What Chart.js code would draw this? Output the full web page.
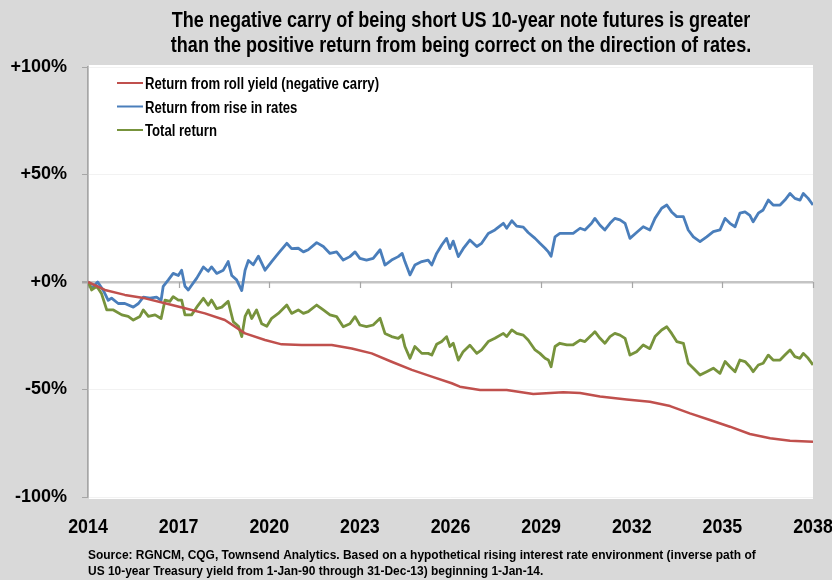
<!DOCTYPE html>
<html>
<head>
<meta charset="utf-8">
<title>Negative carry of short US 10-year note futures</title>
<script src="https://cdn.jsdelivr.net/npm/chart.js@4.4.0/dist/chart.umd.min.js"></script>
<style>
    html, body { margin: 0; padding: 0; background: #d9d9d9; }
    #wrap { width: 832px; height: 580px; }
</style>
</head>
<body>
<div id="wrap"><canvas id="carryChart" width="832" height="580"></canvas></div>
<script>
// series (x = year, y = cumulative return in %)
var rollYears = [2014.0, 2014.56, 2015.22, 2015.89, 2016.55, 2017.21, 2017.87, 2018.53, 2019.2, 2019.86,
    2020.41, 2021.07, 2022.07, 2022.73, 2023.39, 2024.05, 2024.72, 2025.38, 2026.04, 2026.31,
    2026.98, 2027.86, 2028.74, 2029.73, 2030.29, 2030.95, 2031.83, 2032.6, 2033.27, 2033.93,
    2034.59, 2035.25, 2035.91, 2036.58, 2037.24, 2038.0];
var rollReturn = [0, -3.7, -6, -7.6, -9.9, -12.2, -14.6, -17.7, -23.9, -27,
    -29, -29.3, -29.3, -30.9, -33.2, -37.1, -40.9, -44, -47.1, -48.7,
    -50.2, -50.2, -52.1, -51.3, -51.6, -53.3, -54.6, -55.7, -57.7, -61.1,
    -64.2, -67.3, -70.7, -72.7, -73.8, -74.3];

var rateYears = [2014.01, 2014.12, 2014.32, 2014.51, 2014.67, 2014.78, 2015.0, 2015.22, 2015.5, 2015.67,
    2015.83, 2016.05, 2016.27, 2016.42, 2016.49, 2016.66, 2016.82, 2016.99, 2017.1, 2017.21,
    2017.32, 2017.43, 2017.6, 2017.82, 2017.98, 2018.09, 2018.26, 2018.48, 2018.64, 2018.76,
    2018.92, 2019.09, 2019.2, 2019.31, 2019.47, 2019.64, 2019.86, 2020.08, 2020.3, 2020.58,
    2020.74, 2020.96, 2021.13, 2021.29, 2021.57, 2021.79, 2022.01, 2022.23, 2022.45, 2022.67,
    2022.84, 2023.0, 2023.22, 2023.44, 2023.67, 2023.83, 2024.05, 2024.27, 2024.4, 2024.49,
    2024.66, 2024.82, 2025.05, 2025.26, 2025.38, 2025.54, 2025.71, 2025.87, 2025.98, 2026.09,
    2026.26, 2026.42, 2026.64, 2026.87, 2027.03, 2027.25, 2027.47, 2027.75, 2027.86, 2028.03,
    2028.19, 2028.41, 2028.57, 2028.8, 2028.96, 2029.13, 2029.24, 2029.33, 2029.46, 2029.62,
    2029.85, 2030.06, 2030.29, 2030.45, 2030.67, 2030.78, 2030.95, 2031.11, 2031.28, 2031.44,
    2031.61, 2031.78, 2031.94, 2032.16, 2032.38, 2032.6, 2032.77, 2032.99, 2033.16, 2033.32,
    2033.49, 2033.71, 2033.87, 2034.04, 2034.26, 2034.48, 2034.7, 2034.92, 2035.09, 2035.25,
    2035.42, 2035.58, 2035.75, 2035.91, 2036.02, 2036.19, 2036.35, 2036.52, 2036.68, 2036.91,
    2037.07, 2037.24, 2037.4, 2037.57, 2037.68, 2037.84, 2038.0];
var rateReturn = [0, -3, 0, -4, -8.5, -7.5, -10, -10, -11.7, -10,
    -7, -7.5, -7, -8.5, -2, 1, 4, 3, 5.5, -2,
    -3.7, -1.5, 1.8, 7, 5, 7, 4, 5.5, 9.5, 3,
    1, -4, 5.5, 10, 8, 12, 5.5, 9.5, 13.3, 18,
    15.5, 15.7, 14, 15, 18.3, 16.5, 13.3, 14, 10.2, 11.8,
    14, 11, 10.2, 11, 15, 7.9, 10.2, 11.8, 13.3, 9.5,
    3.3, 7.9, 9.5, 10.2, 7.9, 13.3, 17.2, 20.3, 15.5, 19,
    11.8, 15.5, 19.5, 16.5, 18, 22.6, 24.2, 27.3, 25, 28.5,
    26, 25.5, 23, 20.3, 18, 15.7, 14, 12, 21, 22.6,
    22.6, 22.6, 25, 24.2, 27.3, 29.6, 26.4, 24.2, 27.3, 29.6,
    28.9, 27.3, 20.3, 23, 25.7, 24.2, 29.6, 34.3, 35.8, 32.6,
    30.4, 30.4, 24.2, 21, 18.8, 21, 23.4, 24.2, 29.6, 27.3,
    25.7, 32, 32.6, 31, 28, 32, 33.5, 38.1, 35.8, 35.8,
    38.1, 41.2, 38.9, 38.1, 41.2, 38.9, 35.8];

var totalYears = [2014.01, 2014.12, 2014.29, 2014.45, 2014.62, 2014.84, 2015.12, 2015.33, 2015.5, 2015.72,
    2015.83, 2016.0, 2016.22, 2016.42, 2016.55, 2016.71, 2016.82, 2016.99, 2017.1, 2017.21,
    2017.43, 2017.6, 2017.82, 2017.98, 2018.09, 2018.26, 2018.43, 2018.64, 2018.81, 2018.98,
    2019.09, 2019.2, 2019.31, 2019.42, 2019.58, 2019.75, 2019.92, 2020.08, 2020.3, 2020.58,
    2020.74, 2020.96, 2021.13, 2021.29, 2021.57, 2021.79, 2022.01, 2022.23, 2022.45, 2022.67,
    2022.84, 2023.0, 2023.22, 2023.44, 2023.67, 2023.83, 2024.05, 2024.27, 2024.4, 2024.49,
    2024.66, 2024.82, 2025.05, 2025.26, 2025.38, 2025.54, 2025.71, 2025.87, 2025.98, 2026.09,
    2026.26, 2026.42, 2026.64, 2026.87, 2027.03, 2027.25, 2027.47, 2027.75, 2027.86, 2028.03,
    2028.19, 2028.41, 2028.57, 2028.8, 2028.96, 2029.13, 2029.24, 2029.33, 2029.46, 2029.62,
    2029.85, 2030.06, 2030.29, 2030.45, 2030.67, 2030.78, 2030.95, 2031.11, 2031.28, 2031.44,
    2031.61, 2031.78, 2031.94, 2032.16, 2032.38, 2032.6, 2032.77, 2032.99, 2033.16, 2033.32,
    2033.49, 2033.71, 2033.87, 2034.04, 2034.26, 2034.48, 2034.7, 2034.92, 2035.09, 2035.25,
    2035.42, 2035.58, 2035.75, 2035.91, 2036.02, 2036.19, 2036.35, 2036.52, 2036.68, 2036.91,
    2037.07, 2037.24, 2037.4, 2037.57, 2037.68, 2037.84, 2038.0];
var totalReturn = [0, -3.7, -2, -5.5, -13, -13, -15.3, -16, -17.7, -16,
    -13, -16, -15.3, -17, -8.4, -9, -6.8, -8.4, -8.4, -15.3,
    -15.3, -11.7, -7.6, -10.8, -8.4, -12.4, -11.7, -9, -18.5, -20.6,
    -25.4, -16, -13, -17, -13, -19.4, -20.6, -16.9, -14.6, -10.7,
    -14.6, -13, -14.6, -13.8, -10.7, -13, -15.3, -16.1, -20.8, -19.4,
    -16.1, -20, -20.8, -20, -16.9, -23.9, -25.4, -26.2, -24.7, -30,
    -35.5, -30, -33.2, -33.2, -34, -29, -27.7, -25.4, -30, -28.5,
    -36.3, -32.4, -29.4, -33.2, -31.6, -27.7, -26.2, -23.9, -25.4, -22.3,
    -23.9, -24.7, -27, -31.6, -33.2, -35.5, -36.3, -39.4, -30, -28.5,
    -29.2, -29.2, -27, -27.7, -24.7, -23.1, -26.2, -28.5, -25.4, -23.9,
    -24.7, -26.2, -34, -32.4, -29.3, -31, -25.4, -22.3, -20.8, -23.9,
    -27.7, -28.5, -37.8, -40.1, -43.3, -41.7, -40.1, -42.5, -37, -39.4,
    -41.7, -36.3, -37, -39.4, -41.7, -38.6, -37.8, -34, -36.3, -36.3,
    -34, -31.6, -34.7, -35.5, -33.2, -35.5, -38.6];

var seriesNames = ['Return from roll yield (negative carry)', 'Return from rise in rates', 'Total return'];
var yearTicks = [2014, 2017, 2020, 2023, 2026, 2029, 2032, 2035, 2038];
var pctTicks = [100, 50, 0, -50, -100];

var titleLines = [
    'The negative carry of being short US 10-year note futures is greater',
    'than the positive return from being correct on the direction of rates.'
];
var sourceLines = [
    'Source: RGNCM, CQG, Townsend Analytics. Based on a hypothetical rising interest rate environment (inverse path of',
    'US 10-year Treasury yield from 1-Jan-90 through 31-Dec-13) beginning 1-Jan-14.'
];

var FONT = "'Liberation Sans', Arial, sans-serif";
var AXIS_GREY = '#a6a6a6';
// the original uses a condensed face; squeeze regular bold to this width ratio
var NARROW_RATIO = 0.82;

function toPoints(xs, ys) {
    var out = [];
    for (var i = 0; i < Math.min(xs.length, ys.length); i++) {
        out.push({x: xs[i], y: ys[i]});
    }
    return out;
}

function narrowText(ctx, text, x, y, ratio) {
    ctx.save();
    ctx.translate(x, y);
    ctx.scale(ratio, 1);
    ctx.fillText(text, 0, 0);
    ctx.restore();
}

// gray page, white plot box, little tick marks hanging under the zero line
var plotBox = {
    id: 'plotBox',
    beforeDraw: function (chart) {
        var ctx = chart.ctx, a = chart.chartArea;
        ctx.save();
        ctx.fillStyle = '#d9d9d9';
        ctx.fillRect(0, 0, chart.width, chart.height);
        ctx.fillStyle = '#ffffff';
        ctx.fillRect(a.left + 1, a.top - 2, a.right - a.left - 1, a.bottom - a.top + 4);
        ctx.restore();
    },
    beforeDatasetsDraw: function (chart) {
        var ctx = chart.ctx, xs = chart.scales.x, ys = chart.scales.y;
        var y0 = ys.getPixelForValue(0);
        ctx.save();
        ctx.strokeStyle = AXIS_GREY;
        ctx.lineWidth = 1.2;
        yearTicks.forEach(function (yr) {
            var px = Math.round(xs.getPixelForValue(yr)) + 0.5;
            ctx.beginPath();
            ctx.moveTo(px, y0);
            ctx.lineTo(px, y0 + 6);
            ctx.stroke();
        });
        ctx.restore();
    }
};

// title, year labels, legend inside the plot, source note
var textBits = {
    id: 'textBits',
    afterDraw: function (chart) {
        var ctx = chart.ctx, xs = chart.scales.x;
        ctx.save();
        ctx.fillStyle = '#000';
        ctx.textBaseline = 'alphabetic';

        ctx.textAlign = 'center';
        ctx.font = 'bold 22px ' + FONT;
        narrowText(ctx, titleLines[0], 461, 27, NARROW_RATIO);
        narrowText(ctx, titleLines[1], 461, 52, NARROW_RATIO);

        // year labels sit on the x scale's own tick positions
        ctx.font = 'bold 21px ' + FONT;
        yearTicks.forEach(function (yr) {
            narrowText(ctx, String(yr), xs.getPixelForValue(yr), 533, 0.85);
        });

        ctx.textAlign = 'left';
        ctx.font = 'bold 16px ' + FONT;
        chart.data.datasets.forEach(function (ds, i) {
            var rowY = 83 + i * 23.5;
            ctx.strokeStyle = ds.borderColor;
            ctx.lineWidth = 2;
            ctx.beginPath();
            ctx.moveTo(117, rowY);
            ctx.lineTo(143, rowY);
            ctx.stroke();
            narrowText(ctx, ds.label, 145, rowY + 6, NARROW_RATIO);
        });

        ctx.font = 'bold 13px ' + FONT;
        narrowText(ctx, sourceLines[0], 88, 559, 0.92);
        narrowText(ctx, sourceLines[1], 88, 575, 0.92);
        ctx.restore();
    }
};

var chart = new Chart(document.getElementById('carryChart').getContext('2d'), {
    type: 'line',
    data: {
        datasets: [
            {
                label: seriesNames[0],
                data: toPoints(rollYears, rollReturn),
                borderColor: '#c0504d',
                borderWidth: 2.5,
                order: 1
            },
            {
                label: seriesNames[1],
                data: toPoints(rateYears, rateReturn),
                borderColor: '#4a7ebb',
                borderWidth: 2.8,
                order: 3
            },
            {
                label: seriesNames[2],
                data: toPoints(totalYears, totalReturn),
                borderColor: '#77933c',
                borderWidth: 2.8,
                order: 2
            }
        ]
    },
    options: {
        responsive: false,
        animation: false,
        elements: {
            point: {radius: 0, hoverRadius: 0},
            line: {tension: 0, borderJoinStyle: 'round', fill: false}
        },
        layout: {padding: {top: 67, right: 19, left: 0, bottom: 0}},
        plugins: {
            legend: {display: false},
            title: {display: false},
            tooltip: {enabled: false}
        },
        scales: {
            x: {
                type: 'linear',
                min: 2014,
                max: 2038,
                afterBuildTicks: function (scale) {
                    scale.ticks = yearTicks.map(function (v) { return {value: v}; });
                },
                afterFit: function (scale) {
                    scale.height = 83;
                    scale.paddingLeft = 0;
                    scale.paddingRight = 0;
                },
                grid: {display: false, drawTicks: false},
                border: {display: false},
                ticks: {display: false}
            },
            y: {
                min: -100,
                max: 100,
                afterBuildTicks: function (scale) {
                    scale.ticks = pctTicks.map(function (v) { return {value: v}; });
                },
                afterFit: function (scale) {
                    scale.width = 88;
                    scale.paddingTop = 0;
                    scale.paddingBottom = 0;
                },
                grid: {
                    drawTicks: true,
                    tickLength: 6,
                    tickColor: AXIS_GREY,
                    color: function (c) {
                        if (c.tick && c.tick.value === 0) return '#c4c4c4';
                        return '#f2f2f2';
                    },
                    lineWidth: function (c) {
                        return (c.tick && c.tick.value === 0) ? 2.5 : 1;
                    }
                },
                border: {display: true, color: AXIS_GREY, width: 1.5},
                ticks: {
                    color: '#000',
                    padding: 15,
                    font: {family: FONT, size: 18, weight: 'bold'},
                    callback: function (v) { return (v >= 0 ? '+' : '') + v + '%'; }
                }
            }
        }
    },
    plugins: [plotBox, textBits]
});
</script>
</body>
</html>
